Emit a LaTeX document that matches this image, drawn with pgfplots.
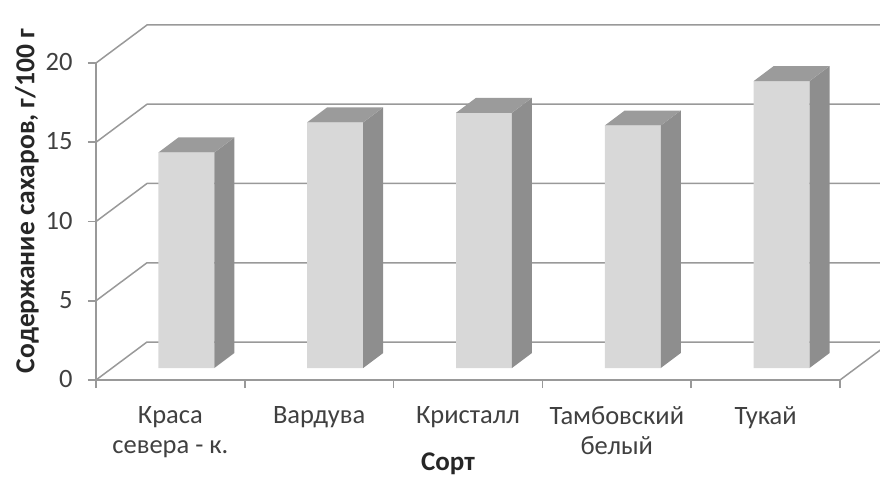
\documentclass[border=0pt]{standalone}
\usepackage{fontspec}
\setmainfont{Carlito}
\usepackage{pgfplots}
\usepackage{pgfplotstable}
\pgfplotsset{compat=1.18}
\definecolor{gridc}{HTML}{999999}
\definecolor{frontc}{HTML}{D8D8D8}
\definecolor{sidec}{HTML}{8E8E8E}
\definecolor{topc}{HTML}{9B9B9B}
\definecolor{tickc}{HTML}{404040}
\definecolor{titlec}{HTML}{262626}

\pgfplotstableread{
x v
0 13.6
1 15.5
2 16.1
3 15.3
4 18.1
}\datatable

\begin{document}
\begin{tikzpicture}
\path[use as bounding box] (-96pt,-99pt) rectangle (784pt,380pt);
\begin{axis}[
  scale only axis,
  width=744pt, height=317pt,
  xmin=-0.5, xmax=4.5, ymin=0, ymax=20,
  clip=false,
  /pgf/number format/assume math mode=true,
  axis x line*=bottom, axis y line*=left,
  axis line style={gridc, line width=1.5pt, -},
  every tick/.style={gridc, line width=1.5pt},
  tick align=outside,
  major tick length=8pt,
  xtick={-0.5,0.5,...,4.5},
  x tick label as interval,
  xticklabels={{Краса\\севера - к.}, Вардува, Кристалл, {Тамбовский\\белый}, Тукай},
  xticklabel style={align=center, font=\fontsize{26.5}{30}\selectfont, text=tickc, yshift=-15pt},
  ytick={0,5,10,15,20},
  yticklabel style={font=\fontsize{26.5}{30}\selectfont, text=tickc, xshift=-12pt, yshift=1pt},
  every axis y label/.style={at={(axis description cs:-0.0927,0.565)}, anchor=center, rotate=90,
     font=\fontsize{27.5}{33}\selectfont\bfseries, text=titlec},
  every axis x label/.style={at={(axis description cs:0.473,-0.284)}, anchor=base,
     font=\fontsize{27}{32}\selectfont\bfseries, text=titlec},
  ylabel={Содержание сахаров, г/100 г},
  xlabel={Сорт},
]
% side wall and back wall gridlines
\pgfplotsinvokeforeach{0,5,10,15,20}{
  \draw[gridc, line width=1.5pt] (axis cs:-0.5,#1) -- ++(51pt,38pt) -- ++(744pt,0pt);
}
% right floor edge
\draw[gridc, line width=1.5pt] (axis cs:4.5,0) -- ++(51pt,38pt);

% front faces
\addplot[ybar, bar width=56pt, bar shift=16pt, yshift=12pt, fill=frontc, draw=none]
  table[x=x, y=v] {\datatable};

% side and top faces
\pgfplotsinvokeforeach{0,...,4}{
  \pgfplotstablegetelem{#1}{v}\of\datatable
  \pgfmathsetmacro\bv{\pgfplotsretval}
  \pgfmathsetmacro\xl{#1-0.0805}
  \pgfmathsetmacro\xr{#1+0.2955}
  \pgfmathsetmacro\xbl{#1+0.0539}
  \pgfmathsetmacro\xbr{#1+0.4299}
  \pgfmathsetmacro\yf{\bv+0.757}
  \pgfmathsetmacro\yb{\bv+1.703}
  \addplot[fill=sidec, draw=none] coordinates {(\xr,0.757) (\xbr,1.703) (\xbr,\yb) (\xr,\yf)} -- cycle;
  \addplot[fill=topc, draw=none] coordinates {(\xl,\yf) (\xr,\yf) (\xbr,\yb) (\xbl,\yb)} -- cycle;
}
\end{axis}
\end{tikzpicture}
\end{document}
